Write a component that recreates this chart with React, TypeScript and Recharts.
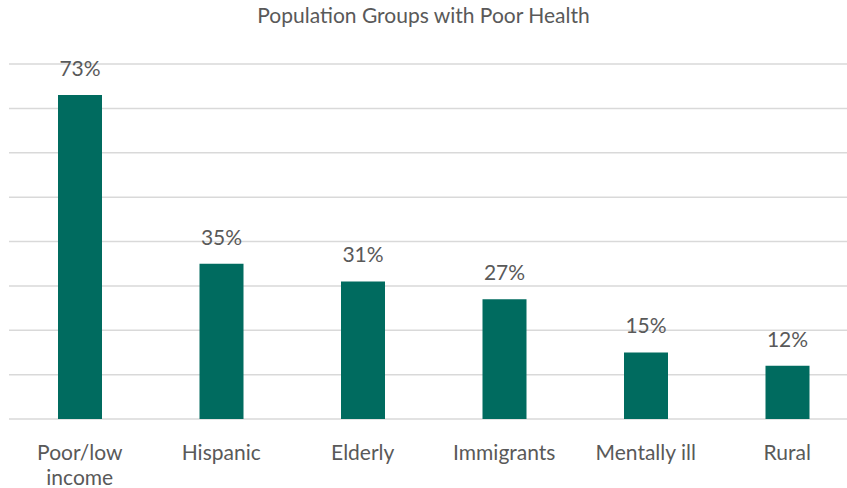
import React from 'react';
import { Bar, BarChart, CartesianGrid, LabelList, XAxis, YAxis } from 'recharts';

const categories = ['Poor/low income', 'Hispanic', 'Elderly', 'Immigrants', 'Mentally ill', 'Rural'];
const shares = [73, 35, 31, 27, 15, 12];
const yTicks = [0, 10, 20, 30, 40, 50, 60, 70, 80];

const FONT = 'Lato, "Open Sans", sans-serif';
const TEXT_COLOR = '#595959';
const BAR_COLOR = '#006b5f';

const data = categories.map((name, i) => ({ name, value: shares[i] }));

// long labels break at the last space, like the original's wrapped axis text
function splitLabel(label: string): string[] {
  if (label.length <= 12) return [label];
  const cut = label.lastIndexOf(' ');
  return [label.slice(0, cut), label.slice(cut + 1)];
}

function CategoryTick(props: any) {
  const { x, y, payload } = props;
  const lines = splitLabel(String(payload.value));
  return (
    <text x={x} y={y + 33} textAnchor="middle" fill={TEXT_COLOR} style={{ fontSize: 21, fontFamily: FONT }}>
      {lines.map((line, i) => (
        <tspan key={line} x={x} dy={i === 0 ? 0 : 25}>
          {line}
        </tspan>
      ))}
    </text>
  );
}

export default function App() {
  return (
    <div
      style={{
        position: 'absolute',
        left: 0,
        top: 0,
        width: 847,
        height: 488,
        overflow: 'hidden',
        background: '#fff',
        fontFamily: FONT,
      }}
    >
      <div
        style={{
          position: 'absolute',
          top: 2,
          left: 0,
          width: 847,
          textAlign: 'center',
          fontSize: 21,
          color: TEXT_COLOR,
        }}
      >
        Population Groups with Poor Health
      </div>
      <BarChart
        width={858}
        height={488}
        data={data}
        margin={{ top: 64, right: 0, bottom: 0, left: 9 }}
        barCategoryGap={0}
      >
        <CartesianGrid horizontal vertical={false} stroke="#d9d9d9" strokeWidth={1.5} />
        <YAxis hide width={0} domain={[0, 80]} ticks={yTicks} />
        <XAxis
          dataKey="name"
          height={69}
          axisLine={false}
          tickLine={false}
          interval={0}
          tick={<CategoryTick />}
        />
        <Bar dataKey="value" fill={BAR_COLOR} barSize={44} isAnimationActive={false}>
          <LabelList
            dataKey="value"
            position="top"
            offset={19}
            formatter={(v: any) => `${v}%`}
            fill={TEXT_COLOR}
            style={{ fontSize: 21, fontFamily: FONT }}
          />
        </Bar>
      </BarChart>
    </div>
  );
}
